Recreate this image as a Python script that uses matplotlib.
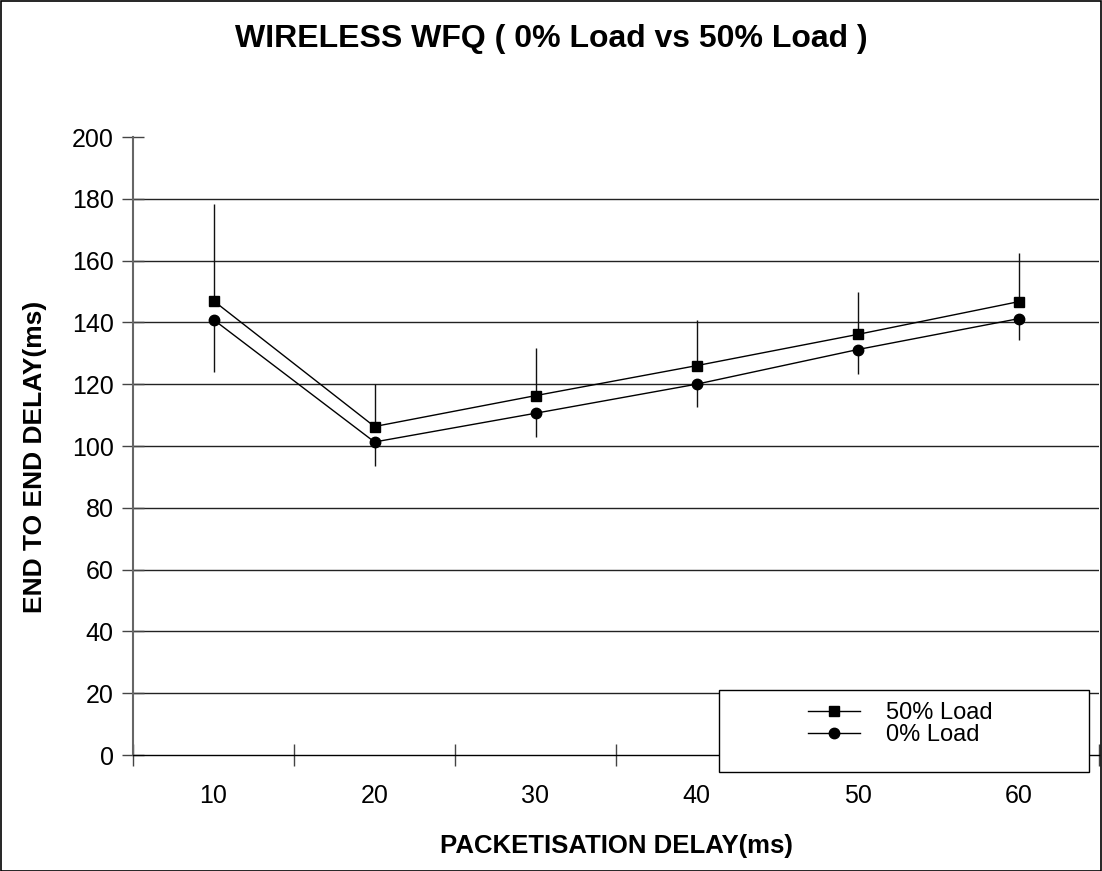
import matplotlib
matplotlib.use("Agg")
import matplotlib.pyplot as plt
from matplotlib.patches import Rectangle
import numpy as np

plt.rcParams['font.family'] = ['Liberation Sans', 'DejaVu Sans']

categories = ["10", "20", "30", "40", "50", "60"]
load50 = [147.0, 106.3, 116.3, 126.0, 136.1, 146.7]
load50_up = [31.2, 13.7, 15.3, 14.8, 13.7, 15.7]
load0 = [140.9, 101.3, 110.6, 120.0, 131.2, 141.2]
load0_down = [16.9, 7.7, 7.8, 7.3, 8.0, 7.0]
yticks = [0, 20, 40, 60, 80, 100, 120, 140, 160, 180, 200]

W, H = 1102, 871
fig = plt.figure(figsize=(W / 100, H / 100), dpi=100)
ax = fig.add_axes([133 / W, 1 - 755 / H, (1099 - 133) / W, (755 - 137) / H])

x = np.arange(1, len(categories) + 1)

ax.errorbar(x, load50, yerr=[np.zeros(len(x)), load50_up], fmt='none',
            ecolor='#111111', elinewidth=1, capsize=0, zorder=3)
ax.errorbar(x, load0, yerr=[load0_down, np.zeros(len(x))], fmt='none',
            ecolor='#111111', elinewidth=1, capsize=0, zorder=3)
l50, = ax.plot(x, load50, color='black', lw=1, marker='s', ms=7, zorder=4,
               label='50% Load')
l0, = ax.plot(x, load0, color='black', lw=1, marker='o', ms=7.5, zorder=4,
              label='0% Load')

ax.set_xlim(0.5, len(categories) + 0.5)
ax.set_ylim(0, 200)
ax.set_yticks(yticks)
ax.set_yticklabels([str(v) for v in yticks])
ax.set_xticks(np.arange(0.5, len(categories) + 1, 1.0))
ax.set_xticklabels([])
ax.set_xticks(x, minor=True)
ax.set_xticklabels(categories, minor=True)
ax.tick_params(axis='x', which='minor', length=0, pad=21, labelsize=18)
ax.tick_params(axis='x', which='major', direction='inout', length=16, width=1, color='#444444')
ax.tick_params(axis='y', direction='inout', length=16, width=1, labelsize=18, pad=6, color='#444444')

for v in yticks[1:-1]:
    ax.axhline(v, color='#222222', lw=1, zorder=1)

for s in ['top', 'right']:
    ax.spines[s].set_visible(False)
ax.spines['left'].set_color('#666666')
ax.spines['left'].set_linewidth(1.5)
ax.spines['bottom'].set_color('black')
ax.spines['bottom'].set_linewidth(1)

fig.text(616 / W, 1 - 846 / H, 'PACKETISATION DELAY(ms)', ha='center', va='center',
         fontsize=18.5, fontweight='bold')
fig.text(35 / W, 1 - 457 / H, 'END TO END DELAY(ms)', ha='center', va='center',
         rotation=90, fontsize=19, fontweight='bold')

fig.text(551 / W, 1 - 39 / H, 'WIRELESS WFQ ( 0% Load vs 50% Load )', ha='center', va='center',
         fontsize=23, fontweight='bold')

# legend box
fig.patches.append(Rectangle((719 / W, 1 - 772 / H), (1089 - 719) / W, (772 - 690) / H,
                             transform=fig.transFigure, facecolor='white', edgecolor='black',
                             lw=1, zorder=5))
leg = fig.legend(handles=[l50, l0], loc='upper left', bbox_to_anchor=(796 / W, 1 - 690 / H),
                 frameon=False, fontsize=17, labelspacing=0, handlelength=2.2,
                 handletextpad=1.1, borderpad=0)
leg.set_zorder(6)

# outer border
fig.patches.append(Rectangle((0.5 / W, 0.5 / H), (W - 2) / W, (H - 2) / H,
                             transform=fig.transFigure, facecolor='none', edgecolor='black', lw=1.2))

fig.savefig('out.png', dpi=100)
